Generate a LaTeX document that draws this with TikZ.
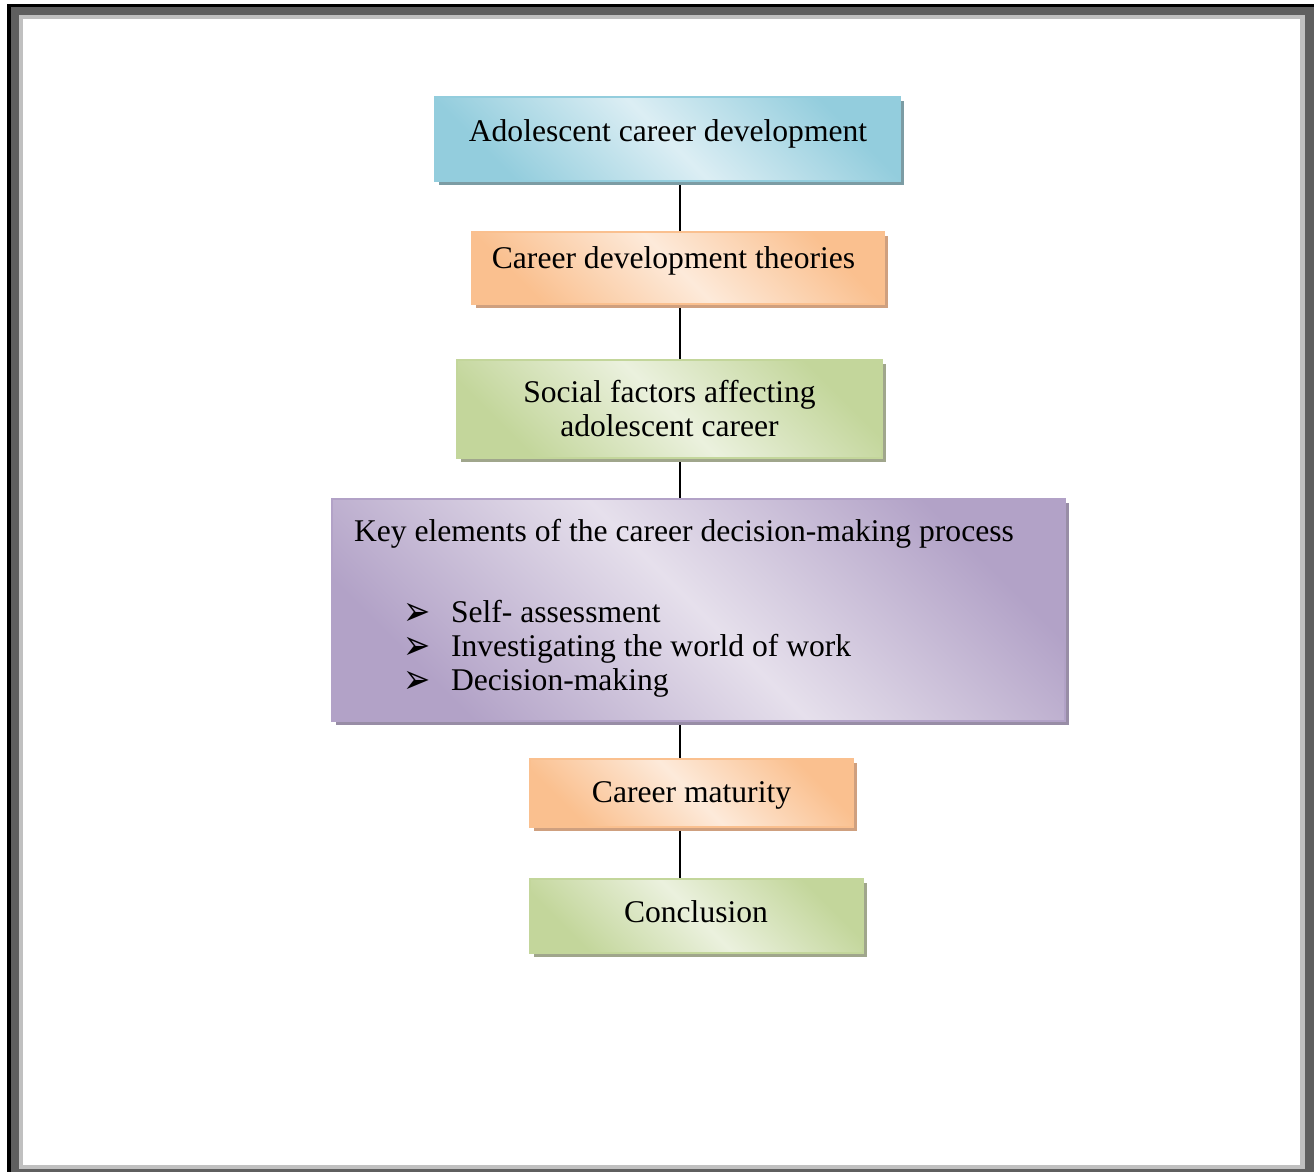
\documentclass[tikz,border=0pt]{standalone}
\usepackage{fontspec}
\usepackage{graphicx}
\setmainfont{Liberation Serif}
\newfontfamily\symfont{DejaVu Sans}
\usetikzlibrary{backgrounds}
\definecolor{bluedk}{HTML}{93CDDD}
\definecolor{bluelt}{HTML}{DCEEF4}
\definecolor{blueshd}{HTML}{7C9CA4}
\definecolor{orgdk}{HTML}{FAC08F}
\definecolor{orglt}{HTML}{FDEADA}
\definecolor{orgshd}{HTML}{CFA07F}
\definecolor{grndk}{HTML}{C3D69B}
\definecolor{grnlt}{HTML}{EBF1DE}
\definecolor{grnshd}{HTML}{A0A68C}
\definecolor{purdk}{HTML}{B2A2C7}
\definecolor{purlt}{HTML}{E6E0EC}
\definecolor{purshd}{HTML}{988DA6}
\definecolor{framedk}{HTML}{5F5F5F}
\definecolor{framelt}{HTML}{C0C0C0}
\tikzset{
  boxbase/.style={rectangle, line width=1.5pt, inner sep=0pt, outer sep=0pt},
  bluebox/.style={boxbase, draw=bluedk, top color=bluedk, bottom color=bluedk, middle color=bluelt, shading angle=-45,
    preaction={draw=none, fill=blueshd, transform canvas={shift={(4pt,-4pt)}}}},
  orgbox/.style={boxbase, draw=orgdk, top color=orgdk, bottom color=orgdk, middle color=orglt, shading angle=-45,
    preaction={draw=none, fill=orgshd, transform canvas={shift={(4pt,-4pt)}}}},
  grnbox/.style={boxbase, draw=grndk, top color=grndk, bottom color=grndk, middle color=grnlt, shading angle=-45,
    preaction={draw=none, fill=grnshd, transform canvas={shift={(4pt,-4pt)}}}},
  purbox/.style={boxbase, draw=purdk, top color=purdk, bottom color=purdk, middle color=purlt, shading angle=-45,
    preaction={draw=none, fill=purshd, transform canvas={shift={(4pt,-4pt)}}}},
  txt/.style={inner sep=0pt, outer sep=0pt, font=\fontsize{31.6}{38}\selectfont},
  bul/.style={inner sep=0pt, outer sep=0pt, font=\symfont\fontsize{26}{30}\selectfont},
  conn/.style={draw=black, line width=1.5pt}
}
\begin{document}
\begin{tikzpicture}[x=1pt,y=-1pt]
\useasboundingbox (0,0) rectangle (1314,1172);

% boxes
\node[bluebox, minimum width=465pt, minimum height=84pt] (b1) at (667.5,139) {};
\node[orgbox, minimum width=412pt, minimum height=72pt] (b2) at (678,268) {};
\node[grnbox, minimum width=425pt, minimum height=98pt] (b3) at (669.5,409) {};
\node[purbox, minimum width=733pt, minimum height=222pt] (b4) at (698.5,610) {};
\node[orgbox, minimum width=323pt, minimum height=68pt] (b5) at (691.5,793) {};
\node[grnbox, minimum width=333pt, minimum height=74pt] (b6) at (696.5,916) {};

\begin{scope}[on background layer]
\fill[white] (0,0) rectangle (1314,1172);
% frame
\fill[framedk] (11,7.5) rectangle (1314,15);
\fill[framedk] (11,7.5) rectangle (19,1172);
\fill[framedk] (1305,7.5) rectangle (1314,1172);
\fill[framedk] (11,1169) rectangle (1314,1172);
\fill[framelt] (19,15) rectangle (1305,19);
\fill[framelt] (19,15) rectangle (23,1169);
\fill[framelt] (1300,15) rectangle (1305,1169);
\fill[framelt] (19,1165) rectangle (1305,1169);
\fill[black] (7,4) rectangle (1314,7.5);
\fill[black] (7,4) rectangle (11,1172);
% connectors
\coordinate (ax) at (680,0);
\draw[conn] (b1.south -| ax) -- (b2.north -| ax);
\draw[conn] (b2.south -| ax) -- (b3.north -| ax);
\draw[conn] (b3.south -| ax) -- (b4.north -| ax);
\draw[conn] (b4.south -| ax) -- (b5.north -| ax);
\draw[conn] (b5.south -| ax) -- (b6.north -| ax);
\end{scope}

% texts
\node[txt, anchor=base] (t1) at (668,141) {Adolescent career development};
\node[txt, anchor=base] (t2) at (673.5,268) {Career development theories};
\node[txt, anchor=base] (t3a) at (669.5,402) {Social factors affecting};
\node[txt, anchor=base] (t3b) at (669.5,436) {adolescent career};
\node[txt, anchor=base west] (t4) at (354,541) {Key elements of the career decision-making process};
\node[bul, anchor=base west] (k1) at (403,625) {\scalebox{1.25}[1.6]{➢}};
\node[bul, anchor=base west] (k2) at (403,659) {\scalebox{1.25}[1.6]{➢}};
\node[bul, anchor=base west] (k3) at (403,693) {\scalebox{1.25}[1.6]{➢}};
\node[txt, anchor=base west] (s1) at (451,622) {Self- assessment};
\node[txt, anchor=base west] (s2) at (451,656) {Investigating the world of work};
\node[txt, anchor=base west] (s3) at (451,690) {Decision-making};
\node[txt, anchor=base] (t5) at (691.5,802) {Career maturity};
\node[txt, anchor=base] (t6) at (696,922) {Conclusion};
\end{tikzpicture}
\end{document}
